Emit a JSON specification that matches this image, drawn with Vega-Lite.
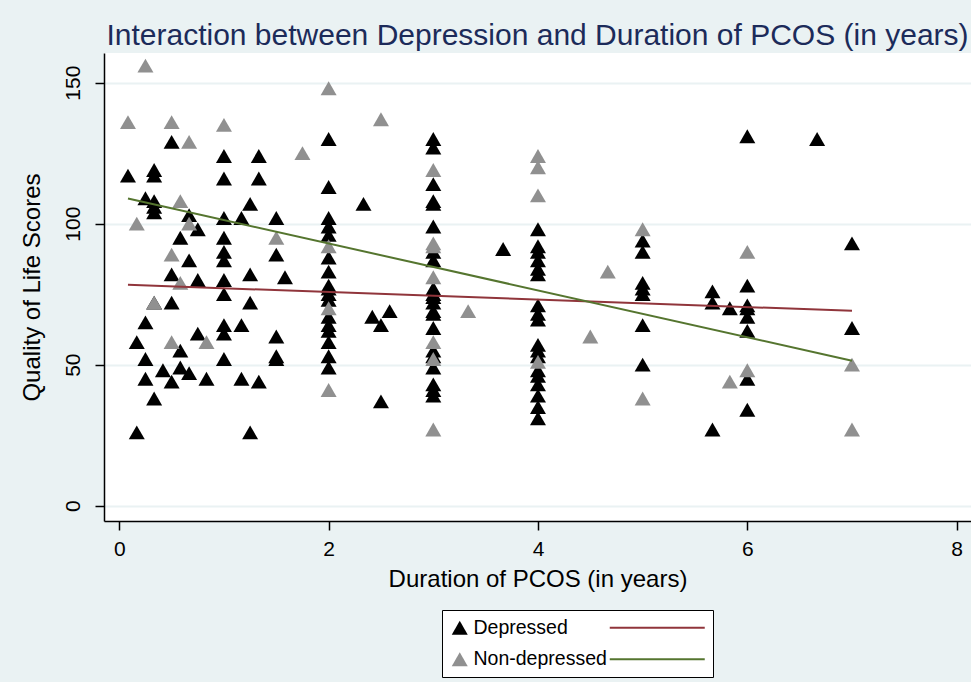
{
  "$schema": "https://vega.github.io/schema/vega-lite/v6.json",
  "width": 867,
  "height": 468,
  "autosize": {"type": "none"},
  "padding": {"left": 104, "top": 53, "right": 0, "bottom": 161},
  "background": "#EAF2F3",
  "title": {
    "text": "Interaction between Depression and Duration of PCOS (in years)",
    "font": "Liberation Sans",
    "fontSize": 30,
    "fontWeight": "normal",
    "color": "#1c2b5a",
    "anchor": "middle",
    "frame": "group",
    "baseline": "alphabetic",
    "offset": 10,
    "dy": 32
  },
  "config": {
    "font": "Liberation Sans",
    "view": {"fill": "white", "stroke": null},
    "axis": {
      "domainColor": "black",
      "domainWidth": 1.5,
      "tickColor": "black",
      "tickWidth": 1.5,
      "tickSize": 9,
      "labelFontSize": 21,
      "labelColor": "black",
      "titleFontSize": 24,
      "titleFontWeight": "normal",
      "titleColor": "black",
      "gridColor": "#EAF2F3",
      "gridWidth": 2
    }
  },
  "datasets": {
    "pts": [
      {"duration": 0.083, "qol": 117, "group": "Depressed"},
      {"duration": 0.167, "qol": 58, "group": "Depressed"},
      {"duration": 0.167, "qol": 26, "group": "Depressed"},
      {"duration": 0.25, "qol": 109, "group": "Depressed"},
      {"duration": 0.25, "qol": 65, "group": "Depressed"},
      {"duration": 0.25, "qol": 52, "group": "Depressed"},
      {"duration": 0.25, "qol": 45, "group": "Depressed"},
      {"duration": 0.333, "qol": 119, "group": "Depressed"},
      {"duration": 0.333, "qol": 117, "group": "Depressed"},
      {"duration": 0.333, "qol": 108, "group": "Depressed"},
      {"duration": 0.333, "qol": 106, "group": "Depressed"},
      {"duration": 0.333, "qol": 104, "group": "Depressed"},
      {"duration": 0.333, "qol": 72, "group": "Depressed"},
      {"duration": 0.333, "qol": 38, "group": "Depressed"},
      {"duration": 0.417, "qol": 48, "group": "Depressed"},
      {"duration": 0.5, "qol": 129, "group": "Depressed"},
      {"duration": 0.5, "qol": 82, "group": "Depressed"},
      {"duration": 0.5, "qol": 72, "group": "Depressed"},
      {"duration": 0.5, "qol": 44, "group": "Depressed"},
      {"duration": 0.583, "qol": 95, "group": "Depressed"},
      {"duration": 0.583, "qol": 55, "group": "Depressed"},
      {"duration": 0.583, "qol": 49, "group": "Depressed"},
      {"duration": 0.667, "qol": 103, "group": "Depressed"},
      {"duration": 0.667, "qol": 87, "group": "Depressed"},
      {"duration": 0.667, "qol": 47, "group": "Depressed"},
      {"duration": 0.75, "qol": 98, "group": "Depressed"},
      {"duration": 0.75, "qol": 80, "group": "Depressed"},
      {"duration": 0.75, "qol": 61, "group": "Depressed"},
      {"duration": 0.833, "qol": 45, "group": "Depressed"},
      {"duration": 1, "qol": 124, "group": "Depressed"},
      {"duration": 1, "qol": 116, "group": "Depressed"},
      {"duration": 1, "qol": 102, "group": "Depressed"},
      {"duration": 1, "qol": 95, "group": "Depressed"},
      {"duration": 1, "qol": 90, "group": "Depressed"},
      {"duration": 1, "qol": 87, "group": "Depressed"},
      {"duration": 1, "qol": 80, "group": "Depressed"},
      {"duration": 1, "qol": 75, "group": "Depressed"},
      {"duration": 1, "qol": 64, "group": "Depressed"},
      {"duration": 1, "qol": 61, "group": "Depressed"},
      {"duration": 1, "qol": 52, "group": "Depressed"},
      {"duration": 1.167, "qol": 102, "group": "Depressed"},
      {"duration": 1.167, "qol": 64, "group": "Depressed"},
      {"duration": 1.167, "qol": 45, "group": "Depressed"},
      {"duration": 1.25, "qol": 107, "group": "Depressed"},
      {"duration": 1.25, "qol": 82, "group": "Depressed"},
      {"duration": 1.25, "qol": 72, "group": "Depressed"},
      {"duration": 1.25, "qol": 26, "group": "Depressed"},
      {"duration": 1.333, "qol": 124, "group": "Depressed"},
      {"duration": 1.333, "qol": 116, "group": "Depressed"},
      {"duration": 1.333, "qol": 44, "group": "Depressed"},
      {"duration": 1.5, "qol": 102, "group": "Depressed"},
      {"duration": 1.5, "qol": 89, "group": "Depressed"},
      {"duration": 1.5, "qol": 60, "group": "Depressed"},
      {"duration": 1.5, "qol": 53, "group": "Depressed"},
      {"duration": 1.5, "qol": 52, "group": "Depressed"},
      {"duration": 1.583, "qol": 81, "group": "Depressed"},
      {"duration": 2, "qol": 130, "group": "Depressed"},
      {"duration": 2, "qol": 113, "group": "Depressed"},
      {"duration": 2, "qol": 102, "group": "Depressed"},
      {"duration": 2, "qol": 99, "group": "Depressed"},
      {"duration": 2, "qol": 96, "group": "Depressed"},
      {"duration": 2, "qol": 88, "group": "Depressed"},
      {"duration": 2, "qol": 83, "group": "Depressed"},
      {"duration": 2, "qol": 78, "group": "Depressed"},
      {"duration": 2, "qol": 77, "group": "Depressed"},
      {"duration": 2, "qol": 75, "group": "Depressed"},
      {"duration": 2, "qol": 73, "group": "Depressed"},
      {"duration": 2, "qol": 67, "group": "Depressed"},
      {"duration": 2, "qol": 64, "group": "Depressed"},
      {"duration": 2, "qol": 62, "group": "Depressed"},
      {"duration": 2, "qol": 58, "group": "Depressed"},
      {"duration": 2, "qol": 53, "group": "Depressed"},
      {"duration": 2, "qol": 49, "group": "Depressed"},
      {"duration": 2.333, "qol": 107, "group": "Depressed"},
      {"duration": 2.417, "qol": 67, "group": "Depressed"},
      {"duration": 2.5, "qol": 64, "group": "Depressed"},
      {"duration": 2.5, "qol": 37, "group": "Depressed"},
      {"duration": 2.583, "qol": 69, "group": "Depressed"},
      {"duration": 3, "qol": 130, "group": "Depressed"},
      {"duration": 3, "qol": 127, "group": "Depressed"},
      {"duration": 3, "qol": 114, "group": "Depressed"},
      {"duration": 3, "qol": 108, "group": "Depressed"},
      {"duration": 3, "qol": 107, "group": "Depressed"},
      {"duration": 3, "qol": 99, "group": "Depressed"},
      {"duration": 3, "qol": 90, "group": "Depressed"},
      {"duration": 3, "qol": 87, "group": "Depressed"},
      {"duration": 3, "qol": 77, "group": "Depressed"},
      {"duration": 3, "qol": 75, "group": "Depressed"},
      {"duration": 3, "qol": 74, "group": "Depressed"},
      {"duration": 3, "qol": 72, "group": "Depressed"},
      {"duration": 3, "qol": 69, "group": "Depressed"},
      {"duration": 3, "qol": 68, "group": "Depressed"},
      {"duration": 3, "qol": 63, "group": "Depressed"},
      {"duration": 3, "qol": 55, "group": "Depressed"},
      {"duration": 3, "qol": 53, "group": "Depressed"},
      {"duration": 3, "qol": 49, "group": "Depressed"},
      {"duration": 3, "qol": 43, "group": "Depressed"},
      {"duration": 3, "qol": 41, "group": "Depressed"},
      {"duration": 3, "qol": 39, "group": "Depressed"},
      {"duration": 3.667, "qol": 91, "group": "Depressed"},
      {"duration": 4, "qol": 98, "group": "Depressed"},
      {"duration": 4, "qol": 92, "group": "Depressed"},
      {"duration": 4, "qol": 90, "group": "Depressed"},
      {"duration": 4, "qol": 87, "group": "Depressed"},
      {"duration": 4, "qol": 84, "group": "Depressed"},
      {"duration": 4, "qol": 82, "group": "Depressed"},
      {"duration": 4, "qol": 71, "group": "Depressed"},
      {"duration": 4, "qol": 68, "group": "Depressed"},
      {"duration": 4, "qol": 66, "group": "Depressed"},
      {"duration": 4, "qol": 57, "group": "Depressed"},
      {"duration": 4, "qol": 55, "group": "Depressed"},
      {"duration": 4, "qol": 53, "group": "Depressed"},
      {"duration": 4, "qol": 48, "group": "Depressed"},
      {"duration": 4, "qol": 46, "group": "Depressed"},
      {"duration": 4, "qol": 43, "group": "Depressed"},
      {"duration": 4, "qol": 39, "group": "Depressed"},
      {"duration": 4, "qol": 35, "group": "Depressed"},
      {"duration": 4, "qol": 31, "group": "Depressed"},
      {"duration": 5, "qol": 94, "group": "Depressed"},
      {"duration": 5, "qol": 90, "group": "Depressed"},
      {"duration": 5, "qol": 79, "group": "Depressed"},
      {"duration": 5, "qol": 77, "group": "Depressed"},
      {"duration": 5, "qol": 75, "group": "Depressed"},
      {"duration": 5, "qol": 64, "group": "Depressed"},
      {"duration": 5, "qol": 50, "group": "Depressed"},
      {"duration": 5.667, "qol": 76, "group": "Depressed"},
      {"duration": 5.667, "qol": 72, "group": "Depressed"},
      {"duration": 5.667, "qol": 27, "group": "Depressed"},
      {"duration": 5.833, "qol": 70, "group": "Depressed"},
      {"duration": 6, "qol": 131, "group": "Depressed"},
      {"duration": 6, "qol": 78, "group": "Depressed"},
      {"duration": 6, "qol": 71, "group": "Depressed"},
      {"duration": 6, "qol": 70, "group": "Depressed"},
      {"duration": 6, "qol": 67, "group": "Depressed"},
      {"duration": 6, "qol": 62, "group": "Depressed"},
      {"duration": 6, "qol": 45, "group": "Depressed"},
      {"duration": 6, "qol": 34, "group": "Depressed"},
      {"duration": 6.667, "qol": 130, "group": "Depressed"},
      {"duration": 7, "qol": 93, "group": "Depressed"},
      {"duration": 7, "qol": 63, "group": "Depressed"},
      {"duration": 0.083, "qol": 136, "group": "Non-depressed"},
      {"duration": 0.167, "qol": 100, "group": "Non-depressed"},
      {"duration": 0.25, "qol": 156, "group": "Non-depressed"},
      {"duration": 0.333, "qol": 72, "group": "Non-depressed"},
      {"duration": 0.5, "qol": 136, "group": "Non-depressed"},
      {"duration": 0.5, "qol": 89, "group": "Non-depressed"},
      {"duration": 0.5, "qol": 58, "group": "Non-depressed"},
      {"duration": 0.583, "qol": 108, "group": "Non-depressed"},
      {"duration": 0.583, "qol": 79, "group": "Non-depressed"},
      {"duration": 0.667, "qol": 129, "group": "Non-depressed"},
      {"duration": 0.667, "qol": 100, "group": "Non-depressed"},
      {"duration": 0.833, "qol": 58, "group": "Non-depressed"},
      {"duration": 1, "qol": 135, "group": "Non-depressed"},
      {"duration": 1.5, "qol": 95, "group": "Non-depressed"},
      {"duration": 1.75, "qol": 125, "group": "Non-depressed"},
      {"duration": 2, "qol": 148, "group": "Non-depressed"},
      {"duration": 2, "qol": 92, "group": "Non-depressed"},
      {"duration": 2, "qol": 70, "group": "Non-depressed"},
      {"duration": 2, "qol": 41, "group": "Non-depressed"},
      {"duration": 2.5, "qol": 137, "group": "Non-depressed"},
      {"duration": 3, "qol": 119, "group": "Non-depressed"},
      {"duration": 3, "qol": 93, "group": "Non-depressed"},
      {"duration": 3, "qol": 92, "group": "Non-depressed"},
      {"duration": 3, "qol": 81, "group": "Non-depressed"},
      {"duration": 3, "qol": 58, "group": "Non-depressed"},
      {"duration": 3, "qol": 52, "group": "Non-depressed"},
      {"duration": 3, "qol": 27, "group": "Non-depressed"},
      {"duration": 3.333, "qol": 69, "group": "Non-depressed"},
      {"duration": 4, "qol": 124, "group": "Non-depressed"},
      {"duration": 4, "qol": 120, "group": "Non-depressed"},
      {"duration": 4, "qol": 110, "group": "Non-depressed"},
      {"duration": 4, "qol": 51, "group": "Non-depressed"},
      {"duration": 4.5, "qol": 60, "group": "Non-depressed"},
      {"duration": 4.667, "qol": 83, "group": "Non-depressed"},
      {"duration": 5, "qol": 98, "group": "Non-depressed"},
      {"duration": 5, "qol": 38, "group": "Non-depressed"},
      {"duration": 5.833, "qol": 44, "group": "Non-depressed"},
      {"duration": 6, "qol": 90, "group": "Non-depressed"},
      {"duration": 6, "qol": 48, "group": "Non-depressed"},
      {"duration": 7, "qol": 50, "group": "Non-depressed"},
      {"duration": 7, "qol": 27, "group": "Non-depressed"}
    ],
    "fits": [
      {"duration": 0.083, "qol": 78.3, "fit": "Depressed fit"},
      {"duration": 7, "qol": 69.1, "fit": "Depressed fit"},
      {"duration": 0.083, "qol": 108.9, "fit": "Non-depressed fit"},
      {"duration": 7, "qol": 51.4, "fit": "Non-depressed fit"}
    ]
  },
  "layer": [
    {
      "data": {"name": "pts"},
      "mark": {"type": "point", "shape": "triangle-up", "filled": true, "size": 256, "opacity": 1, "strokeWidth": 0},
      "encoding": {
        "x": {
          "field": "duration", "type": "quantitative",
          "scale": {"domain": [-0.146, 8.137], "nice": false, "zero": false},
          "axis": {"values": [0, 2, 4, 6, 8], "format": "d", "title": "Duration of PCOS (in years)", "grid": false, "labelPadding": 8, "titlePadding": 8}
        },
        "y": {
          "field": "qol", "type": "quantitative",
          "scale": {"domain": [-5.43, 160.5], "nice": false, "zero": false},
          "axis": {"values": [0, 50, 100, 150], "format": "d", "title": "Quality of Life Scores", "grid": true, "labelAngle": 270, "labelAlign": "center", "labelBaseline": "bottom", "labelPadding": 12, "titlePadding": 18}
        },
        "fill": {
          "field": "group", "type": "nominal",
          "scale": {"domain": ["Depressed", "Non-depressed"], "range": ["#000000", "#909090"]},
          "legend": {
            "orient": "none", "legendX": 338, "legendY": 557, "title": null,
            "fillColor": "white", "strokeColor": "black", "padding": 8,
            "symbolType": "triangle-up", "symbolSize": 256, "symbolStrokeWidth": 0, "symbolOpacity": 1,
            "labelFontSize": 19.5, "labelColor": "black", "labelOffset": 4, "rowPadding": 10.5,
            "labelLimit": 400, "labelExpr": "datum.label + '                  \u200b'"
          }
        }
      }
    },
    {
      "data": {"name": "fits"},
      "mark": {"type": "line", "strokeWidth": 2},
      "encoding": {
        "x": {"field": "duration", "type": "quantitative"},
        "y": {"field": "qol", "type": "quantitative"},
        "stroke": {
          "field": "fit", "type": "nominal",
          "scale": {"domain": ["Depressed fit", "Non-depressed fit"], "range": ["#90353B", "#55752F"]},
          "legend": {
            "orient": "none", "legendX": 488, "legendY": 557, "title": null, "padding": 8,
            "symbolType": "M0,0H95", "symbolSize": 4, "symbolStrokeWidth": 2,
            "labelFontSize": 19.5, "labelOpacity": 0, "rowPadding": 10.5
          }
        }
      }
    }
  ]
}
